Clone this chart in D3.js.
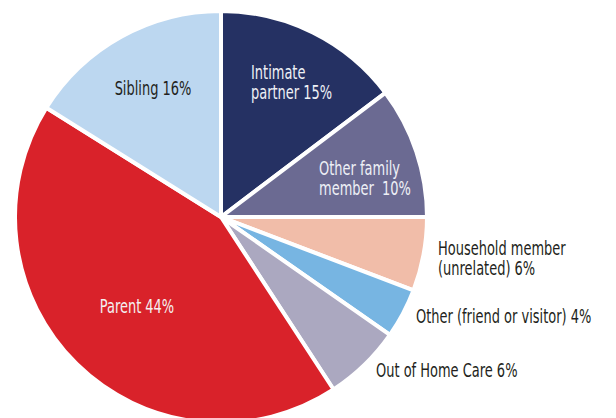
<!DOCTYPE html>
<html>
<head>
<meta charset="utf-8">
<script src="https://cdn.jsdelivr.net/npm/d3@7"></script>
<style>
	html, body { margin:0; padding:0; background:#fff; }
	#chart { width:616px; height:418px; overflow:hidden; }
	text { font-family:"DejaVu Sans Condensed","DejaVu Sans",sans-serif; font-size:19px; }
</style>
</head>
<body>
<div id="chart"></div>
<script>
// 分类
var categories = ["Intimate partner", "Other family member", "Household member (unrelated)",
	"Other (friend or visitor)", "Out of Home Care", "Parent", "Sibling"];
// 扇区大小（按图上角度估计）
var shares = [14.7, 10.3, 5.8, 3.9, 6.1, 43.1, 16.1];
// 标签上显示的百分比
var pctLabels = ["15%", "10%", "6%", "4%", "6%", "44%", "16%"];
// 标签文字（分行）
var labelLines = [
	["Intimate", "partner 15%"],
	["Other family", "member  10%"],
	["Household member", "(unrelated) 6%"],
	["Other (friend or visitor) 4%"],
	["Out of Home Care 6%"],
	["Parent 44%"],
	["Sibling 16%"]
];
var colors = ["#253163", "#6b6a92", "#f1bda9", "#77b5e2", "#aba8c0", "#d9222a", "#bcd7f0"];

// 标签位置（相对于圆心），不属于数据
var labelLayout = [
	{x:30,  y:-138, anchor:"start",  fill:"#eef0f6"},
	{x:98,  y:-42,  anchor:"start",  fill:"#eef0f6"},
	{x:217, y:38,   anchor:"start",  fill:"#231f20"},
	{x:195, y:106,  anchor:"start",  fill:"#231f20"},
	{x:155, y:160,  anchor:"start",  fill:"#231f20"},
	{x:-84, y:96,   anchor:"middle", fill:"#f4f0f0"},
	{x:-68, y:-122, anchor:"middle", fill:"#231f20"}
];

var W = 616, H = 418;
var cx = 221, cy = 217, R = 206;
var squeeze = 0.76;   // 字体横向压缩，模仿窄体字

var svg = d3.select("#chart")
	.append("svg")
	.attr("width", W)
	.attr("height", H);

var g = svg.append("g").attr("transform", "translate(" + cx + "," + cy + ")");

var data = categories.map(function(c, i){
	return {name:c, value:shares[i], pct:pctLabels[i], lines:labelLines[i], color:colors[i], lay:labelLayout[i]};
});

var pie = d3.pie().sort(null).value(function(d){ return d.value; });
var arc = d3.arc().innerRadius(0).outerRadius(R);

// 扇区
g.selectAll("path.slice")
	.data(pie(data))
	.enter()
	.append("path")
	.attr("class", "slice")
	.attr("d", arc)
	.attr("fill", function(d){ return d.data.color; })
	.attr("stroke", "#fff")
	.attr("stroke-width", 4)
	.attr("stroke-linejoin", "round");

// 标签
var lineH = 20.5;
var labels = g.selectAll("text.lbl")
	.data(data)
	.enter()
	.append("text")
	.attr("class", "lbl")
	.attr("transform", function(d){ return "translate(" + d.lay.x + "," + d.lay.y + ") scale(" + squeeze + ",1)"; })
	.attr("text-anchor", function(d){ return d.lay.anchor; })
	.attr("fill", function(d){ return d.lay.fill; });

labels.each(function(d){
	var t = d3.select(this);
	d.lines.forEach(function(line, k){
		t.append("tspan")
			.attr("x", 0)
			.attr("dy", k === 0 ? 0 : lineH)
			.attr("xml:space", "preserve")
			.text(line);
	});
});
</script>
</body>
</html>
